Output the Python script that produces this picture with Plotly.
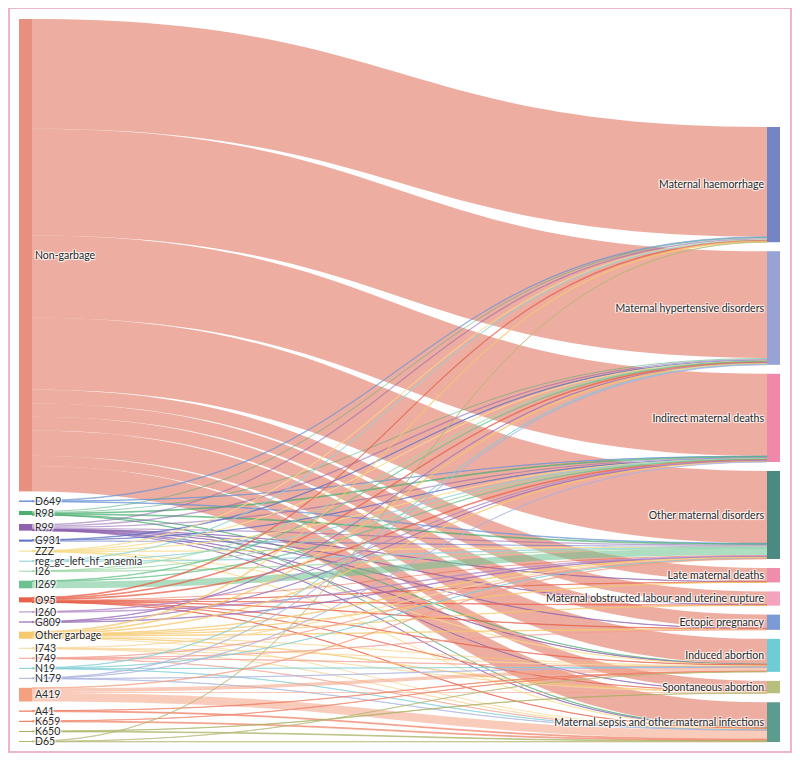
import plotly.graph_objects as go

# ---------------- data ----------------
source_labels = [
    "Non-garbage", "D649", "R98", "R99", "G931", "ZZZ", "reg_gc_left_hf_anaemia",
    "I26", "I269", "O95", "I260", "G809", "Other garbage", "I743", "I749",
    "N19", "N179", "A419", "A41", "K659", "K650", "D65",
]
target_labels = [
    "Maternal haemorrhage", "Maternal hypertensive disorders", "Indirect maternal deaths",
    "Other maternal disorders", "Late maternal deaths",
    "Maternal obstructed labour and uterine rupture", "Ectopic pregnancy",
    "Induced abortion", "Spontaneous abortion", "Maternal sepsis and other maternal infections",
]

T = target_labels
flow_source = (
    ["Non-garbage"] * 10
    + ["D649"] * 3
    + ["R98"] * 6
    + ["R99"] * 10
    + ["G931"] * 3
    + ["ZZZ"] * 6
    + ["reg_gc_left_hf_anaemia"] * 3
    + ["I26"] * 3
    + ["I269"] * 3
    + ["O95"] * 10
    + ["I260"] * 2
    + ["G809"] * 3
    + ["Other garbage"] * 10
    + ["I743"] * 4
    + ["I749"] * 4
    + ["N19"] * 4
    + ["N179"] * 4
    + ["A419"] * 4
    + ["A41"] * 2
    + ["K659"] * 2
    + ["K650"] * 2
    + ["D65"] * 3
)
flow_target = (
    T[:]                                    # Non-garbage
    + [T[0], T[2], T[3]]                    # D649
    + [T[0], T[1], T[2], T[3], T[7], T[9]]  # R98
    + T[:]                                  # R99
    + [T[1], T[2], T[3]]                    # G931
    + [T[0], T[1], T[2], T[3], T[7], T[9]]  # ZZZ
    + [T[0], T[2], T[3]]                    # reg_gc
    + [T[1], T[2], T[3]]                    # I26
    + [T[1], T[2], T[3]]                    # I269
    + T[:]                                  # O95
    + [T[2], T[3]]                          # I260
    + [T[1], T[2], T[3]]                    # G809
    + T[:]                                  # Other garbage
    + [T[3], T[7], T[8], T[9]]              # I743
    + [T[3], T[6], T[7], T[9]]              # I749
    + [T[1], T[3], T[7], T[9]]              # N19
    + [T[1], T[2], T[7], T[9]]              # N179
    + [T[3], T[7], T[8], T[9]]              # A419
    + [T[7], T[9]]                          # A41
    + [T[7], T[9]]                          # K659
    + [T[8], T[9]]                          # K650
    + [T[0], T[7], T[9]]                    # D65
)
flow_value = (
    [108, 105, 81, 71, 13.5, 13, 13.5, 25, 10, 25]        # Non-garbage
    + [0.6, 0.3, 0.6]                                     # D649
    + [1.0, 1.0, 0.8, 0.8, 0.2, 0.2]                      # R98
    + [1.4, 1.4, 1.1, 1.2, 0.2, 0.3, 0.3, 0.3, 0.1, 0.2]  # R99
    + [0.5, 0.3, 1.2]                                     # G931
    + [0.2, 0.2, 0.2, 0.2, 0.1, 0.1]                      # ZZZ
    + [0.3, 0.2, 0.5]                                     # reg_gc
    + [0.3, 0.2, 0.5]                                     # I26
    + [0.5, 0.4, 6.6]                                     # I269
    + [0.8, 0.8, 0.8, 1.0, 0.2, 0.3, 0.4, 0.3, 0.1, 0.3]  # O95
    + [0.4, 0.6]                                          # I260
    + [0.4, 0.3, 0.5]                                     # G809
    + [0.8, 0.9, 0.6, 0.6, 0.3, 0.4, 0.6, 1.3, 0.5, 1.0]  # Other garbage
    + [0.3, 0.3, 0.2, 0.2]                                # I743
    + [0.3, 0.2, 0.3, 0.2]                                # I749
    + [0.4, 0.2, 0.2, 0.2]                                # N19
    + [0.4, 0.2, 0.2, 0.2]                                # N179
    + [0.5, 3.5, 1.0, 8.5]                                # A419
    + [0.3, 0.9]                                          # A41
    + [0.3, 0.9]                                          # K659
    + [0.3, 0.7]                                          # K650
    + [0.3, 0.2, 0.5]                                     # D65
)

source_colors = [
    "#E8907F", "#6F95D6", "#4DAE72", "#8E62AE", "#5E72C4", "#F7DC8A", "#8FD3D8",
    "#9FD8A8", "#6CC28E", "#E8614A", "#B38ACB", "#9A6FB8", "#F6C96E", "#F8D79A", "#F2A093",
    "#7FCDD6", "#A9B3E0", "#F4A182", "#EE7A5E", "#EE8468", "#A8AE5E", "#B6B874",
]
target_colors = [
    "#7584C3", "#98A2D4", "#F088AA", "#4A8A80", "#F08CAC",
    "#F4A3BF", "#7B9BD5", "#6ECCD6", "#B8BE7C", "#5C9C8F",
]

# ---------------- layout constants ----------------
FIG_W, FIG_H = 792, 753
M_L, M_R, M_T, M_B = 11, 20, 11, 19
PAD, THICK = 9, 13
DOM_W = FIG_W - M_L - M_R
DOM_H = FIG_H - M_T - M_B

# ---------------- build ----------------
labels = source_labels + target_labels
idx = {name: i for i, name in enumerate(labels)}
node_colors = source_colors + target_colors

out_sum = {s: 0.0 for s in source_labels}
in_sum = {t: 0.0 for t in target_labels}
for s, t, v in zip(flow_source, flow_target, flow_value):
    out_sum[s] += v
    in_sum[t] += v

total = sum(flow_value)
ky = (DOM_H - (len(source_labels) - 1) * PAD) / total

node_x, node_y = [], []
# left column: stacked from the top
y = 0.0
for s in source_labels:
    h = out_sum[s] * ky
    node_x.append((THICK / 2) / DOM_W)
    node_y.append((y + h / 2) / DOM_H)
    y += h + PAD
# right column: stacked, aligned to the bottom
right_span = sum(in_sum[t] for t in target_labels) * ky + (len(target_labels) - 1) * PAD
y = DOM_H - right_span
for t in target_labels:
    h = in_sum[t] * ky
    node_x.append(1 - (THICK / 2) / DOM_W)
    node_y.append((y + h / 2) / DOM_H)
    y += h + PAD


def hex_to_rgba(h, a):
    h = h.lstrip("#")
    r, g, b = int(h[0:2], 16), int(h[2:4], 16), int(h[4:6], 16)
    return f"rgba({r},{g},{b},{a})"


link_colors = []
for s in flow_source:
    if s == "Non-garbage":
        link_colors.append("rgba(226,122,104,0.62)")
    else:
        link_colors.append(hex_to_rgba(source_colors[source_labels.index(s)], 0.55))

fig = go.Figure(
    go.Sankey(
        arrangement="fixed",
        node=dict(
            label=labels,
            color=node_colors,
            pad=PAD,
            thickness=THICK,
            line=dict(width=0),
            x=node_x,
            y=node_y,
        ),
        link=dict(
            source=[idx[s] for s in flow_source],
            target=[idx[t] for t in flow_target],
            value=flow_value,
            color=link_colors,
        ),
        textfont=dict(family="Lato", size=10.5, color="#2a2a2a"),
    )
)

fig.update_layout(
    width=FIG_W,
    height=FIG_H,
    margin=dict(l=M_L, r=M_R, t=M_T, b=M_B),
    paper_bgcolor="white",
    plot_bgcolor="white",
    shapes=[
        dict(
            type="rect",
            xref="paper", yref="paper",
            x0=-10 / DOM_W, x1=1 + 11 / DOM_W,
            y0=-10 / DOM_H, y1=1 + 11 / DOM_H,
            line=dict(color="#E8A0B8", width=1.5),
            fillcolor="rgba(0,0,0,0)",
            layer="above",
        )
    ],
)

fig.write_html("out.html")
